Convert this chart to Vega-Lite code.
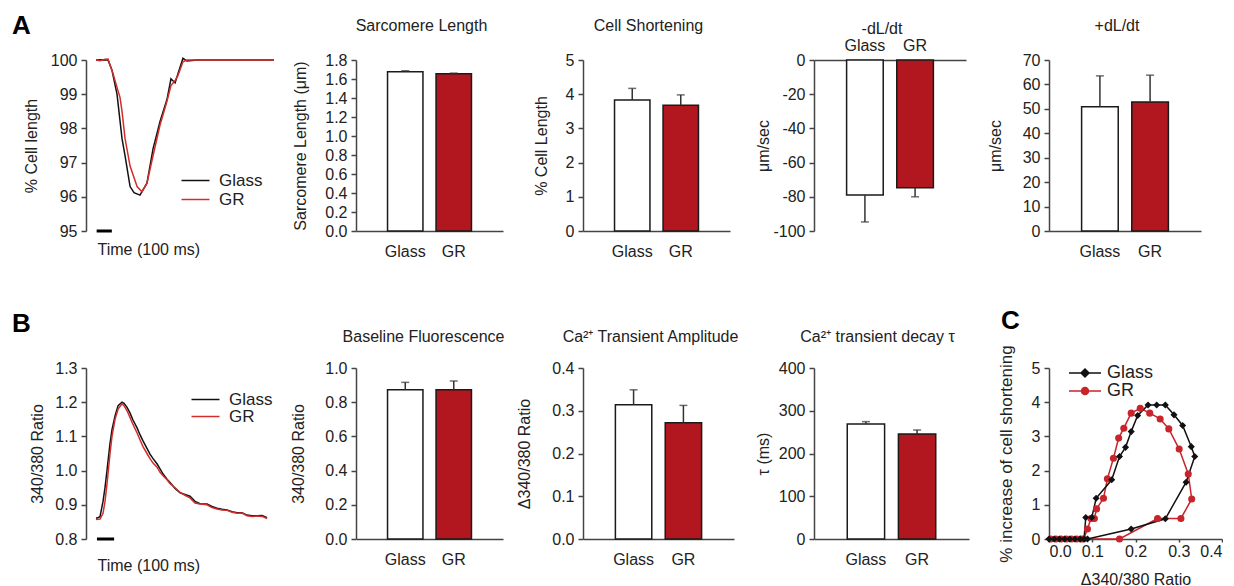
{
"$schema":"https://vega.github.io/schema/vega-lite/v6.json",
"padding":{"left":12,"top":13,"right":0,"bottom":0},
"background":"white",
"config":{"font":"Liberation Sans","view":{"stroke":null},
 "axis":{"grid":false,"domainColor":"#444444","domainWidth":1.5,"tickColor":"#444444","tickWidth":1.5,"tickSize":5,"labelFontSize":16,"labelColor":"#222222","labelPadding":4,"titleFontSize":16,"titleFontWeight":"normal","titleColor":"#222222"},
 "title":{"fontSize":16,"fontWeight":"normal","color":"#222222","anchor":"middle","frame":"group"},
 "legend":{"labelFontSize":17,"labelColor":"#222222"}},
"resolve":{"scale":{"color":"independent","fill":"independent","shape":"independent","stroke":"independent"},"legend":{"color":"independent","fill":"independent","shape":"independent","stroke":"independent"}},
"datasets":{
 "trA":[
  {"t":66,"v":100,"g":"Glass"},{"t":100,"v":100.01,"g":"Glass"},{"t":145,"v":100,"g":"Glass"},{"t":171,"v":99.7,"g":"Glass"},{"t":204,"v":99.0,"g":"Glass"},{"t":237,"v":97.7,"g":"Glass"},{"t":257,"v":97.2,"g":"Glass"},{"t":290,"v":96.3,"g":"Glass"},{"t":316,"v":96.12,"g":"Glass"},{"t":355,"v":96.05,"g":"Glass"},{"t":401,"v":96.4,"g":"Glass"},{"t":441,"v":97.4,"g":"Glass"},{"t":487,"v":98.2,"g":"Glass"},{"t":533,"v":98.85,"g":"Glass"},{"t":559,"v":99.45,"g":"Glass"},{"t":586,"v":99.33,"g":"Glass"},{"t":605,"v":99.6,"g":"Glass"},{"t":638,"v":100.05,"g":"Glass"},{"t":664,"v":99.97,"g":"Glass"},{"t":730,"v":100,"g":"Glass"},{"t":1237,"v":100,"g":"Glass"},
  {"t":66,"v":100,"g":"GR"},{"t":92,"v":99.98,"g":"GR"},{"t":125,"v":100.02,"g":"GR"},{"t":145,"v":100.03,"g":"GR"},{"t":178,"v":99.6,"g":"GR"},{"t":204,"v":99.2,"g":"GR"},{"t":224,"v":98.9,"g":"GR"},{"t":237,"v":98.5,"g":"GR"},{"t":257,"v":97.7,"g":"GR"},{"t":290,"v":96.9,"g":"GR"},{"t":336,"v":96.3,"g":"GR"},{"t":368,"v":96.15,"g":"GR"},{"t":401,"v":96.4,"g":"GR"},{"t":441,"v":97.2,"g":"GR"},{"t":487,"v":98.1,"g":"GR"},{"t":533,"v":98.8,"g":"GR"},{"t":559,"v":99.25,"g":"GR"},{"t":586,"v":99.4,"g":"GR"},{"t":605,"v":99.55,"g":"GR"},{"t":638,"v":99.95,"g":"GR"},{"t":664,"v":100,"g":"GR"},{"t":1237,"v":100,"g":"GR"}
 ],
 "sbA":[{"t0":70,"t1":170,"v":95}],
 "trB":[
  {"t":66,"v":0.862,"g":"Glass"},{"t":72,"v":0.861,"g":"Glass"},{"t":92,"v":0.865,"g":"Glass"},{"t":112,"v":0.91,"g":"Glass"},{"t":125,"v":0.95,"g":"Glass"},{"t":138,"v":1.0,"g":"Glass"},{"t":158,"v":1.08,"g":"Glass"},{"t":171,"v":1.12,"g":"Glass"},{"t":191,"v":1.16,"g":"Glass"},{"t":211,"v":1.19,"g":"Glass"},{"t":237,"v":1.2,"g":"Glass"},{"t":250,"v":1.197,"g":"Glass"},{"t":270,"v":1.185,"g":"Glass"},{"t":290,"v":1.168,"g":"Glass"},{"t":309,"v":1.148,"g":"Glass"},{"t":336,"v":1.125,"g":"Glass"},{"t":355,"v":1.105,"g":"Glass"},{"t":375,"v":1.087,"g":"Glass"},{"t":401,"v":1.065,"g":"Glass"},{"t":421,"v":1.048,"g":"Glass"},{"t":441,"v":1.035,"g":"Glass"},{"t":467,"v":1.02,"g":"Glass"},{"t":487,"v":1.005,"g":"Glass"},{"t":507,"v":0.99,"g":"Glass"},{"t":533,"v":0.975,"g":"Glass"},{"t":553,"v":0.965,"g":"Glass"},{"t":586,"v":0.948,"g":"Glass"},{"t":619,"v":0.935,"g":"Glass"},{"t":651,"v":0.93,"g":"Glass"},{"t":684,"v":0.925,"g":"Glass"},{"t":717,"v":0.91,"g":"Glass"},{"t":750,"v":0.903,"g":"Glass"},{"t":796,"v":0.902,"g":"Glass"},{"t":829,"v":0.895,"g":"Glass"},{"t":862,"v":0.89,"g":"Glass"},{"t":895,"v":0.887,"g":"Glass"},{"t":928,"v":0.885,"g":"Glass"},{"t":961,"v":0.88,"g":"Glass"},{"t":994,"v":0.877,"g":"Glass"},{"t":1026,"v":0.877,"g":"Glass"},{"t":1059,"v":0.87,"g":"Glass"},{"t":1092,"v":0.868,"g":"Glass"},{"t":1125,"v":0.868,"g":"Glass"},{"t":1158,"v":0.869,"g":"Glass"},{"t":1191,"v":0.862,"g":"Glass"},
  {"t":66,"v":0.858,"g":"GR"},{"t":72,"v":0.857,"g":"GR"},{"t":92,"v":0.858,"g":"GR"},{"t":112,"v":0.875,"g":"GR"},{"t":125,"v":0.91,"g":"GR"},{"t":138,"v":0.96,"g":"GR"},{"t":158,"v":1.05,"g":"GR"},{"t":171,"v":1.1,"g":"GR"},{"t":191,"v":1.15,"g":"GR"},{"t":211,"v":1.18,"g":"GR"},{"t":237,"v":1.195,"g":"GR"},{"t":250,"v":1.19,"g":"GR"},{"t":270,"v":1.175,"g":"GR"},{"t":290,"v":1.155,"g":"GR"},{"t":309,"v":1.135,"g":"GR"},{"t":336,"v":1.11,"g":"GR"},{"t":355,"v":1.09,"g":"GR"},{"t":375,"v":1.07,"g":"GR"},{"t":401,"v":1.05,"g":"GR"},{"t":421,"v":1.035,"g":"GR"},{"t":441,"v":1.022,"g":"GR"},{"t":467,"v":1.01,"g":"GR"},{"t":487,"v":0.995,"g":"GR"},{"t":507,"v":0.985,"g":"GR"},{"t":533,"v":0.973,"g":"GR"},{"t":553,"v":0.962,"g":"GR"},{"t":586,"v":0.95,"g":"GR"},{"t":619,"v":0.936,"g":"GR"},{"t":651,"v":0.928,"g":"GR"},{"t":684,"v":0.92,"g":"GR"},{"t":717,"v":0.905,"g":"GR"},{"t":750,"v":0.902,"g":"GR"},{"t":796,"v":0.9,"g":"GR"},{"t":829,"v":0.892,"g":"GR"},{"t":862,"v":0.888,"g":"GR"},{"t":895,"v":0.885,"g":"GR"},{"t":928,"v":0.884,"g":"GR"},{"t":961,"v":0.878,"g":"GR"},{"t":994,"v":0.875,"g":"GR"},{"t":1026,"v":0.876,"g":"GR"},{"t":1059,"v":0.868,"g":"GR"},{"t":1092,"v":0.866,"g":"GR"},{"t":1125,"v":0.867,"g":"GR"},{"t":1158,"v":0.866,"g":"GR"},{"t":1191,"v":0.86,"g":"GR"}
 ],
 "sbB":[{"t0":72,"t1":185,"v":0.8}],
 "sarc":[{"g":"Glass","v":1.677,"e":1.687},{"g":"GR","v":1.655,"e":1.662}],
 "short":[{"g":"Glass","v":3.83,"e":4.17},{"g":"GR","v":3.68,"e":3.98}],
 "neg":[{"g":"Glass","v":-79,"e":-94.7},{"g":"GR","v":-74.7,"e":-80}],
 "pos":[{"g":"Glass","v":50.9,"e":63.5},{"g":"GR","v":52.8,"e":63.8}],
 "base":[{"g":"Glass","v":0.873,"e":0.916},{"g":"GR","v":0.873,"e":0.924}],
 "amp":[{"g":"Glass","v":0.314,"e":0.349},{"g":"GR","v":0.272,"e":0.3125}],
 "decay":[{"g":"Glass","v":269,"e":274.5},{"g":"GR","v":245.5,"e":255}],
 "loop":[
  {"g":"GR","i":1,"x":0.004,"y":0},{"g":"GR","i":2,"x":0.016,"y":0},{"g":"GR","i":3,"x":0.028,"y":0},{"g":"GR","i":4,"x":0.04,"y":0},{"g":"GR","i":5,"x":0.052,"y":0},{"g":"GR","i":6,"x":0.064,"y":0},{"g":"GR","i":7,"x":0.074,"y":0},{"g":"GR","i":8,"x":0.163,"y":0},{"g":"GR","i":9,"x":0.251,"y":0.6},{"g":"GR","i":10,"x":0.305,"y":0.6},{"g":"GR","i":11,"x":0.33,"y":1.17},{"g":"GR","i":12,"x":0.322,"y":1.9},{"g":"GR","i":13,"x":0.301,"y":2.63},{"g":"GR","i":14,"x":0.277,"y":3.22},{"g":"GR","i":15,"x":0.257,"y":3.51},{"g":"GR","i":16,"x":0.233,"y":3.68},{"g":"GR","i":17,"x":0.211,"y":3.82},{"g":"GR","i":18,"x":0.19,"y":3.68},{"g":"GR","i":19,"x":0.173,"y":3.24},{"g":"GR","i":20,"x":0.161,"y":2.95},{"g":"GR","i":21,"x":0.149,"y":2.36},{"g":"GR","i":22,"x":0.135,"y":1.76},{"g":"GR","i":23,"x":0.126,"y":1.19},{"g":"GR","i":24,"x":0.11,"y":0.88},{"g":"GR","i":25,"x":0.105,"y":0.6},{"g":"GR","i":26,"x":0.097,"y":0.6},{"g":"GR","i":27,"x":0.089,"y":0.29},{"g":"GR","i":28,"x":0.08,"y":0},
  {"g":"Glass","i":1,"x":0,"y":0},{"g":"Glass","i":2,"x":0.012,"y":0},{"g":"Glass","i":3,"x":0.024,"y":0},{"g":"Glass","i":4,"x":0.036,"y":0},{"g":"Glass","i":5,"x":0.048,"y":0},{"g":"Glass","i":6,"x":0.06,"y":0},{"g":"Glass","i":7,"x":0.072,"y":0},{"g":"Glass","i":8,"x":0.089,"y":0},{"g":"Glass","i":9,"x":0.19,"y":0.29},{"g":"Glass","i":10,"x":0.269,"y":0.59},{"g":"Glass","i":11,"x":0.317,"y":1.66},{"g":"Glass","i":12,"x":0.337,"y":2.41},{"g":"Glass","i":13,"x":0.329,"y":2.7},{"g":"Glass","i":14,"x":0.309,"y":3.32},{"g":"Glass","i":15,"x":0.289,"y":3.63},{"g":"Glass","i":16,"x":0.269,"y":3.92},{"g":"Glass","i":17,"x":0.249,"y":3.92},{"g":"Glass","i":18,"x":0.229,"y":3.92},{"g":"Glass","i":19,"x":0.205,"y":3.61},{"g":"Glass","i":20,"x":0.19,"y":3.14},{"g":"Glass","i":21,"x":0.177,"y":2.68},{"g":"Glass","i":22,"x":0.163,"y":2.41},{"g":"Glass","i":23,"x":0.145,"y":1.73},{"g":"Glass","i":24,"x":0.109,"y":1.19},{"g":"Glass","i":25,"x":0.099,"y":0.63},{"g":"Glass","i":26,"x":0.085,"y":0.63},{"g":"Glass","i":27,"x":0.081,"y":0}
 ]
},
"concat":[
 {"width":190,"height":171,
  "title":{"text":"A","anchor":"start","frame":"group","dx":-74,"offset":13,"fontSize":26,"fontWeight":"bold","color":"#000000"},
  "layer":[
   {"data":{"name":"trA"},"mark":{"type":"line","strokeWidth":1.5},
    "encoding":{
     "x":{"field":"t","type":"quantitative","scale":{"domain":[0,1250],"nice":false,"zero":false},"axis":{"title":"Time (100 ms)","labels":false,"ticks":false,"domain":false,"tickSize":0,"titleAlign":"left","titleAnchor":"start","titleX":11,"titlePadding":10}},
     "y":{"field":"v","type":"quantitative","scale":{"domain":[95,100],"nice":false,"zero":false},"axis":{"title":"% Cell length","values":[95,96,97,98,99,100],"titlePadding":11}},
     "color":{"field":"g","type":"nominal","scale":{"domain":["Glass","GR"],"range":["#111111","#d42c2c"]},"legend":{"orient":"none","legendX":101,"legendY":112,"title":null,"symbolType":"M-4,0L4,0","symbolSize":49,"symbolStrokeWidth":1.5,"labelFontSize":17,"labelOffset":15,"rowPadding":1}}}},
   {"data":{"name":"sbA"},"mark":{"type":"rule","strokeWidth":3,"color":"#000000"},"encoding":{
     "x":{"field":"t0","type":"quantitative","axis":{"title":"Time (100 ms)","labels":false,"ticks":false,"domain":false,"tickSize":0,"titleAlign":"left","titleAnchor":"start","titleX":11,"titlePadding":10}},"x2":{"field":"t1"},
     "y":{"field":"v","type":"quantitative","axis":{"title":"% Cell length","values":[95,96,97,98,99,100],"titlePadding":11}}}}
  ]},
 {"width":147,"height":171,"data":{"name":"sarc"},
  "title":{"text":"Sarcomere Length","offset":18,"dx":-8},
  "encoding":{"x":{"field":"g","type":"nominal","sort":["Glass","GR"],"scale":{"paddingInner":0.27,"paddingOuter":0.65},"axis":{"title":null,"labelAngle":0,"ticks":false,"tickSize":0,"labelPadding":12}}},
  "layer":[
   {"mark":{"type":"bar","stroke":"#1a1a1a","strokeWidth":1.5},"encoding":{"y":{"field":"v","type":"quantitative","scale":{"domain":[0,1.8],"nice":false},"axis":{"title":"Sarcomere Length (μm)","values":[0,0.2,0.4,0.6,0.8,1,1.2,1.4,1.6,1.8],"format":".1f","titlePadding":16}},"fill":{"field":"g","type":"nominal","scale":{"domain":["Glass","GR"],"range":["#ffffff","#b2161f"]},"legend":null}}},
   {"mark":{"type":"rule","color":"#333333","strokeWidth":1.5},"encoding":{"y":{"field":"v","type":"quantitative","axis":{"title":"Sarcomere Length (μm)","values":[0,0.2,0.4,0.6,0.8,1,1.2,1.4,1.6,1.8],"format":".1f","titlePadding":16}},"y2":{"field":"e"}}},
   {"mark":{"type":"tick","color":"#333333","size":8,"thickness":1.5},"encoding":{"y":{"field":"e","type":"quantitative","axis":{"title":"Sarcomere Length (μm)","values":[0,0.2,0.4,0.6,0.8,1,1.2,1.4,1.6,1.8],"format":".1f","titlePadding":16}}}}
  ]},
 {"width":147,"height":171,"data":{"name":"short"},
  "title":{"text":"Cell Shortening","offset":18,"dx":-8},
  "encoding":{"x":{"field":"g","type":"nominal","sort":["Glass","GR"],"scale":{"paddingInner":0.27,"paddingOuter":0.65},"axis":{"title":null,"labelAngle":0,"ticks":false,"tickSize":0,"labelPadding":12}}},
  "layer":[
   {"mark":{"type":"bar","stroke":"#1a1a1a","strokeWidth":1.5},"encoding":{"y":{"field":"v","type":"quantitative","scale":{"domain":[0,5],"nice":false},"axis":{"title":"% Cell Length","values":[0,1,2,3,4,5],"titlePadding":16}},"fill":{"field":"g","type":"nominal","scale":{"domain":["Glass","GR"],"range":["#ffffff","#b2161f"]},"legend":null}}},
   {"mark":{"type":"rule","color":"#333333","strokeWidth":1.5},"encoding":{"y":{"field":"v","type":"quantitative","axis":{"title":"% Cell Length","values":[0,1,2,3,4,5],"titlePadding":16}},"y2":{"field":"e"}}},
   {"mark":{"type":"tick","color":"#333333","size":8,"thickness":1.5},"encoding":{"y":{"field":"e","type":"quantitative","axis":{"title":"% Cell Length","values":[0,1,2,3,4,5],"titlePadding":16}}}}
  ]},
 {"width":152,"height":171,"data":{"name":"neg"},
  "title":{"text":"-dL/dt","offset":0,"dx":-8},
  "encoding":{"x":{"field":"g","type":"nominal","sort":["Glass","GR"],"scale":{"paddingInner":0.27,"paddingOuter":0.65},"axis":{"title":null,"orient":"top","labelAngle":0,"ticks":false,"tickSize":0,"labelPadding":7}}},
  "layer":[
   {"mark":{"type":"bar","stroke":"#1a1a1a","strokeWidth":1.5},"encoding":{"y":{"field":"v","type":"quantitative","scale":{"domain":[-100,0],"nice":false},"axis":{"title":"μm/sec","values":[-100,-80,-60,-40,-20,0],"labelExpr":"datum.value < 0 ? '-' + abs(datum.value) : '' + datum.value","titlePadding":1}},"fill":{"field":"g","type":"nominal","scale":{"domain":["Glass","GR"],"range":["#ffffff","#b2161f"]},"legend":null}}},
   {"mark":{"type":"rule","color":"#333333","strokeWidth":1.5},"encoding":{"y":{"field":"v","type":"quantitative","axis":{"title":"μm/sec","values":[-100,-80,-60,-40,-20,0],"labelExpr":"datum.value < 0 ? '-' + abs(datum.value) : '' + datum.value","titlePadding":1}},"y2":{"field":"e"}}},
   {"mark":{"type":"tick","color":"#333333","size":8,"thickness":1.5},"encoding":{"y":{"field":"e","type":"quantitative","axis":{"title":"μm/sec","values":[-100,-80,-60,-40,-20,0],"labelExpr":"datum.value < 0 ? '-' + abs(datum.value) : '' + datum.value","titlePadding":1}}}}
  ]},
 {"width":152,"height":171,"data":{"name":"pos"},
  "title":{"text":"+dL/dt","offset":18,"dx":-8},
  "encoding":{"x":{"field":"g","type":"nominal","sort":["Glass","GR"],"scale":{"paddingInner":0.27,"paddingOuter":0.65},"axis":{"title":null,"labelAngle":0,"ticks":false,"tickSize":0,"labelPadding":12}}},
  "layer":[
   {"mark":{"type":"bar","stroke":"#1a1a1a","strokeWidth":1.5},"encoding":{"y":{"field":"v","type":"quantitative","scale":{"domain":[0,70],"nice":false},"axis":{"title":"μm/sec","values":[0,10,20,30,40,50,60,70],"titlePadding":19}},"fill":{"field":"g","type":"nominal","scale":{"domain":["Glass","GR"],"range":["#ffffff","#b2161f"]},"legend":null}}},
   {"mark":{"type":"rule","color":"#333333","strokeWidth":1.5},"encoding":{"y":{"field":"v","type":"quantitative","axis":{"title":"μm/sec","values":[0,10,20,30,40,50,60,70],"titlePadding":19}},"y2":{"field":"e"}}},
   {"mark":{"type":"tick","color":"#333333","size":8,"thickness":1.5},"encoding":{"y":{"field":"e","type":"quantitative","axis":{"title":"μm/sec","values":[0,10,20,30,40,50,60,70],"titlePadding":19}}}}
  ]},
 {"width":187,"height":171,
  "title":{"text":"B","anchor":"start","frame":"group","dx":-74,"offset":23,"fontSize":26,"fontWeight":"bold","color":"#000000"},
  "layer":[
   {"data":{"name":"trB"},"mark":{"type":"line","strokeWidth":1.5},
    "encoding":{
     "x":{"field":"t","type":"quantitative","scale":{"domain":[0,1230],"nice":false,"zero":false},"axis":{"title":"Time (100 ms)","labels":false,"ticks":false,"domain":false,"tickSize":0,"titleAlign":"left","titleAnchor":"start","titleX":11,"titlePadding":18}},
     "y":{"field":"v","type":"quantitative","scale":{"domain":[0.8,1.3],"nice":false,"zero":false},"axis":{"title":"340/380 Ratio","values":[0.8,0.9,1.0,1.1,1.2,1.3],"format":".1f","titlePadding":9}},
     "color":{"field":"g","type":"nominal","scale":{"domain":["Glass","GR"],"range":["#111111","#d42c2c"]},"legend":{"orient":"none","legendX":111,"legendY":23,"title":null,"symbolType":"M-4,0L4,0","symbolSize":49,"symbolStrokeWidth":1.5,"labelFontSize":17,"labelOffset":15,"rowPadding":-6}}}},
   {"data":{"name":"sbB"},"mark":{"type":"rule","strokeWidth":3,"color":"#000000"},"encoding":{
     "x":{"field":"t0","type":"quantitative","axis":{"title":"Time (100 ms)","labels":false,"ticks":false,"domain":false,"tickSize":0,"titleAlign":"left","titleAnchor":"start","titleX":11,"titlePadding":18}},"x2":{"field":"t1"},
     "y":{"field":"v","type":"quantitative","axis":{"title":"340/380 Ratio","values":[0.8,0.9,1.0,1.1,1.2,1.3],"format":".1f","titlePadding":9}}}}
  ]},
 {"width":147,"height":171,"data":{"name":"base"},
  "title":{"text":"Baseline Fluorescence","offset":15,"dx":-6},
  "encoding":{"x":{"field":"g","type":"nominal","sort":["Glass","GR"],"scale":{"paddingInner":0.27,"paddingOuter":0.65},"axis":{"title":null,"labelAngle":0,"ticks":false,"tickSize":0,"labelPadding":12}}},
  "layer":[
   {"mark":{"type":"bar","stroke":"#1a1a1a","strokeWidth":1.5},"encoding":{"y":{"field":"v","type":"quantitative","scale":{"domain":[0,1],"nice":false},"axis":{"title":"340/380 Ratio","values":[0,0.2,0.4,0.6,0.8,1],"format":".1f","titlePadding":18}},"fill":{"field":"g","type":"nominal","scale":{"domain":["Glass","GR"],"range":["#ffffff","#b2161f"]},"legend":null}}},
   {"mark":{"type":"rule","color":"#333333","strokeWidth":1.5},"encoding":{"y":{"field":"v","type":"quantitative","axis":{"title":"340/380 Ratio","values":[0,0.2,0.4,0.6,0.8,1],"format":".1f","titlePadding":18}},"y2":{"field":"e"}}},
   {"mark":{"type":"tick","color":"#333333","size":8,"thickness":1.5},"encoding":{"y":{"field":"e","type":"quantitative","axis":{"title":"340/380 Ratio","values":[0,0.2,0.4,0.6,0.8,1],"format":".1f","titlePadding":18}}}}
  ]},
 {"width":151,"height":171,"data":{"name":"amp"},
  "title":{"text":"Ca²⁺ Transient Amplitude","offset":15,"dx":-8},
  "encoding":{"x":{"field":"g","type":"nominal","sort":["Glass","GR"],"scale":{"paddingInner":0.27,"paddingOuter":0.65},"axis":{"title":null,"labelAngle":0,"ticks":false,"tickSize":0,"labelPadding":12}}},
  "layer":[
   {"mark":{"type":"bar","stroke":"#1a1a1a","strokeWidth":1.5},"encoding":{"y":{"field":"v","type":"quantitative","scale":{"domain":[0,0.4],"nice":false},"axis":{"title":"Δ340/380 Ratio","values":[0,0.1,0.2,0.3,0.4],"format":".1f","titlePadding":19}},"fill":{"field":"g","type":"nominal","scale":{"domain":["Glass","GR"],"range":["#ffffff","#b2161f"]},"legend":null}}},
   {"mark":{"type":"rule","color":"#333333","strokeWidth":1.5},"encoding":{"y":{"field":"v","type":"quantitative","axis":{"title":"Δ340/380 Ratio","values":[0,0.1,0.2,0.3,0.4],"format":".1f","titlePadding":19}},"y2":{"field":"e"}}},
   {"mark":{"type":"tick","color":"#333333","size":8,"thickness":1.5},"encoding":{"y":{"field":"e","type":"quantitative","axis":{"title":"Δ340/380 Ratio","values":[0,0.1,0.2,0.3,0.4],"format":".1f","titlePadding":19}}}}
  ]},
 {"width":155,"height":171,"data":{"name":"decay"},
  "title":{"text":"Ca²⁺ transient decay τ","offset":15,"dx":-14},
  "encoding":{"x":{"field":"g","type":"nominal","sort":["Glass","GR"],"scale":{"paddingInner":0.27,"paddingOuter":0.65},"axis":{"title":null,"labelAngle":0,"ticks":false,"tickSize":0,"labelPadding":12}}},
  "layer":[
   {"mark":{"type":"bar","stroke":"#1a1a1a","strokeWidth":1.5},"encoding":{"y":{"field":"v","type":"quantitative","scale":{"domain":[0,400],"nice":false},"axis":{"title":"τ (ms)","values":[0,100,200,300,400],"titlePadding":7}},"fill":{"field":"g","type":"nominal","scale":{"domain":["Glass","GR"],"range":["#ffffff","#b2161f"]},"legend":null}}},
   {"mark":{"type":"rule","color":"#333333","strokeWidth":1.5},"encoding":{"y":{"field":"v","type":"quantitative","axis":{"title":"τ (ms)","values":[0,100,200,300,400],"titlePadding":7}},"y2":{"field":"e"}}},
   {"mark":{"type":"tick","color":"#333333","size":8,"thickness":1.5},"encoding":{"y":{"field":"e","type":"quantitative","axis":{"title":"τ (ms)","values":[0,100,200,300,400],"titlePadding":7}}}}
  ]},
 {"width":173,"height":171,"data":{"name":"loop"},
  "title":{"text":"C","anchor":"start","frame":"group","dx":-48,"offset":11,"fontSize":26,"fontWeight":"bold","color":"#000000"},
  "encoding":{
   "x":{"field":"x","type":"quantitative","scale":{"domain":[0,0.4],"nice":false},"axis":{"title":"Δ340/380 Ratio","values":[0,0.1,0.2,0.3,0.4],"format":".1f","tickSize":3,"labelPadding":1,"titlePadding":12}},
   "y":{"field":"y","type":"quantitative","scale":{"domain":[0,5],"nice":false},"axis":{"title":"% increase of cell shortening","titleFontSize":17,"values":[0,1,2,3,4,5],"titlePadding":16}}
  },
  "layer":[
   {"mark":{"type":"line","strokeWidth":1.5},"encoding":{"order":{"field":"i","type":"quantitative"},"stroke":{"field":"g","type":"nominal","scale":{"domain":["GR","Glass"],"range":["#c8242c","#111111"]},"legend":null}}},
   {"mark":{"type":"point","filled":true,"opacity":1,"size":50},"encoding":{
     "shape":{"field":"g","type":"nominal","scale":{"domain":["GR","Glass","none"],"range":["circle","diamond","square"]},"legend":null},
     "color":{"field":"g","type":"nominal","scale":{"domain":["Glass","GR"],"range":["#111111","#c8242c"]},
      "legend":{"orient":"none","legendX":27,"legendY":-4,"title":null,"symbolSize":100,"symbolStrokeWidth":1.5,"labelFontSize":18,"labelOffset":13,"rowPadding":-2,
       "symbolType":{"expr":"datum.value === 'Glass' ? 'M-3.2,0L3.2,0M0,-0.8L0.8,0L0,0.8L-0.8,0Z' : 'M-3.2,0L3.2,0M0.7,0A0.7,0.7,0,1,1,-0.7,0A0.7,0.7,0,1,1,0.7,0Z'"},
       "symbolStrokeColor":{"expr":"datum.value === 'Glass' ? '#111111' : '#c8242c'"}}}}}
  ]}
],
"columns":5,
"spacing":{"row":137,"column":80},
"bounds":"flush",
"align":"none"
}
